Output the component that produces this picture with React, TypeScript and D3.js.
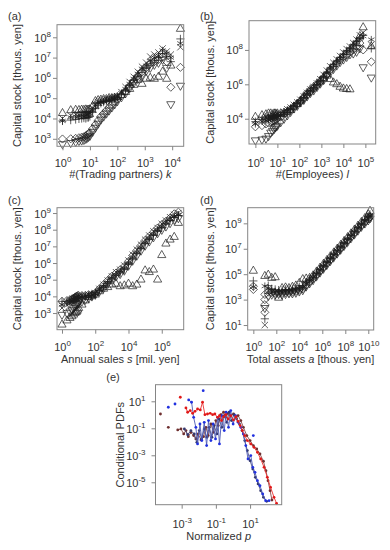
import React, { useEffect, useRef } from 'react';
import * as d3 from 'd3';

// All values are log10 exponents.

// (a) capital stock vs #(trading partners)
const aLogK = [0, 0.30, 0.48, 0.60, 0.70, 0.78, 0.85, 0.90, 0.95, 1.0, 1.1, 1.2, 1.3, 1.4, 1.5, 1.6, 1.7, 1.8, 1.9, 2.0, 2.15, 2.3, 2.45, 2.6, 2.75, 2.9, 3.05, 3.2, 3.35, 3.5, 3.65, 3.8, 3.95, 4.3];
const aTriUp = [4.26, 4.40, 4.42, 4.41, 4.43, 4.42, 4.44, 4.42, 4.43, 4.45, 4.6, 4.85, 4.9, 4.92, 4.95, 4.95, 5.0, 5.0, 5.02, 5.05, 5.15, 5.3, 5.45, 5.65, 5.9, 5.7, 5.95, 6.0, 5.95, 6.05, 6.3, 5.95, 6.6, 8.41];
const aCross = [4.0, 4.15, 4.2, 4.18, 4.22, 4.2, 4.25, 4.22, 4.28, 4.3, 4.5, 4.7, 4.8, 4.85, 4.9, 4.95, 4.95, 5.0, 5.05, 5.1, 5.3, 5.55, 5.8, 6.05, 6.3, 6.55, 6.75, 7.05, 7.15, 7.25, 7.45, 7.3, 7.15, 7.51];
const aStar = [3.88, 4.05, 4.1, 4.12, 4.15, 4.1, 4.18, 4.2, 4.2, 4.25, 4.4, 4.6, 4.75, 4.8, 4.85, 4.9, 4.95, 5.0, 5.0, 5.05, 5.25, 5.45, 5.7, 5.95, 6.2, 6.45, 6.6, 6.85, 7.0, 7.1, 7.35, 7.2, 7.0, 7.7];
const aPlus = [3.88, 3.92, 3.95, 3.98, 4.0, 4.02, 4.0, 4.05, 4.05, 4.1, 4.3, 4.5, 4.65, 4.75, 4.8, 4.85, 4.9, 4.95, 5.0, 5.05, 5.2, 5.4, 5.65, 5.9, 6.1, 6.35, 6.5, 6.7, 6.85, 7.0, 7.2, 7.05, 6.8, 7.92];
const aDiamond = [2.99, 3.0, 3.02, 3.05, 3.08, 3.1, 3.15, 3.2, 3.25, 3.3, 3.5, 3.7, 3.9, 4.1, 4.25, 4.4, 4.55, 4.7, 4.85, 4.95, 5.15, 5.35, 5.6, 5.85, 6.1, 6.3, 6.5, 6.7, 6.8, 6.9, 7.05, 6.8, 5.54, 6.52];
const aTriDown = [2.74, 2.8, 2.85, 2.9, 2.92, 2.95, 3.0, 3.05, 3.1, 3.15, 3.35, 3.55, 3.75, 3.95, 4.1, 4.25, 4.4, 4.55, 4.7, 4.85, 5.05, 5.25, 5.5, 5.75, 5.95, 6.15, 6.35, 6.5, 6.65, 6.75, 6.9, 6.5, 4.71, 5.62];

// (b) capital stock vs #(employees)
const bLogL = [0, 0.30, 0.48, 0.60, 0.70, 0.78, 0.85, 0.90, 0.95, 1.0, 1.15, 1.3, 1.45, 1.6, 1.75, 1.9, 2.05, 2.2, 2.35, 2.5, 2.65, 2.8, 2.95, 3.1, 3.25, 3.4, 3.55, 3.7, 3.85, 4.0, 4.15, 4.3, 4.45, 4.6, 4.75, 4.9, 5.27];
const bTriUp = [4.1, 4.2, 4.25, 4.3, 4.3, 4.25, 4.3, 4.3, 4.25, 4.3, 4.3, 4.35, 4.4, 4.5, 4.7, 4.85, 5.05, 5.3, 5.5, 5.7, 5.85, 6.05, 6.2, 6.35, 6.5, 6.3, 6.1, 6.0, 5.85, 5.75, 5.72, 5.7, 8.2, 8.4, 8.8, 9.31, 8.2];
const bCross = [3.9, 4.0, 4.1, 4.15, 4.1, 4.2, 4.15, 4.2, 4.2, 4.25, 4.3, 4.4, 4.55, 4.65, 4.8, 4.95, 5.1, 5.3, 5.5, 5.7, 5.85, 6.05, 6.3, 6.55, 6.8, 7.05, 7.25, 7.45, 7.65, 7.85, 8.05, 8.2, 8.4, 8.6, 8.85, 9.0, 8.3];
const bPlus = [3.83, 3.95, 4.0, 4.05, 4.05, 4.1, 4.1, 4.15, 4.15, 4.2, 4.25, 4.35, 4.5, 4.6, 4.75, 4.9, 5.05, 5.25, 5.45, 5.65, 5.8, 6.0, 6.2, 6.45, 6.7, 6.95, 7.15, 7.35, 7.55, 7.75, 7.95, 8.1, 8.3, 8.5, 8.7, 8.85, 8.09];
const bStar = [3.7, 3.85, 3.9, 3.95, 4.0, 4.0, 4.05, 4.05, 4.1, 4.1, 4.2, 4.3, 4.45, 4.55, 4.7, 4.85, 5.0, 5.2, 5.4, 5.6, 5.75, 5.95, 6.15, 6.4, 6.65, 6.9, 7.1, 7.3, 7.5, 7.7, 7.9, 8.05, 8.25, 8.45, 8.65, 8.8, 8.6];
const bDiamond = [3.53, 3.6, 3.7, 3.75, 3.8, 3.85, 3.9, 3.95, 3.95, 4.0, 4.1, 4.25, 4.4, 4.55, 4.7, 4.85, 5.0, 5.2, 5.4, 5.6, 5.75, 5.95, 6.15, 6.4, 6.6, 6.85, 7.05, 7.25, 7.45, 7.6, 7.7, 7.9, 8.0, 8.2, 8.4, 8.0, 7.31];
const bTriDown = [2.75, 2.8, 2.85, 3.0, 3.2, 3.3, 3.4, 3.5, 3.55, 3.6, 3.8, 4.0, 4.2, 4.4, 4.6, 4.75, 4.95, 5.1, 5.3, 5.5, 5.65, 5.85, 6.05, 6.25, 6.5, 6.7, 6.9, 7.1, 7.3, 7.45, 7.6, 7.75, 7.8, 7.9, 8.1, 7.0, 6.4];

// (c) capital stock vs annual sales
const cLogS = [0, 0.30, 0.48, 0.60, 0.70, 0.78, 0.85, 0.90, 0.95, 1.0, 1.2, 1.4, 1.6, 1.8, 2.0, 2.25, 2.5, 2.75, 3.0, 3.25, 3.5, 3.75, 4.0, 4.25, 4.5, 4.75, 5.0, 5.25, 5.5, 5.75, 6.0, 6.25, 6.5, 6.75, 7.0];
const cTriUp = [2.3, 2.55, 2.7, 2.8, 2.9, 3.0, 3.05, 3.1, 3.2, 3.3, 3.5, 3.75, 3.95, 4.05, 4.1, 4.3, 4.45, 4.55, 4.7, 4.75, 4.6, 4.65, 4.75, 4.6, 4.7, 5.0, 5.55, 5.45, 5.6, 5.0, 6.47, 7.16, 7.4, 7.56, 8.4];
const cCross = [3.3, 3.5, 3.6, 3.7, 3.8, 3.85, 3.9, 3.9, 3.95, 4.0, 4.0, 4.05, 4.1, 4.1, 4.2, 4.45, 4.7, 4.95, 5.2, 5.45, 5.6, 5.85, 6.15, 6.5, 6.8, 7.1, 7.4, 7.65, 7.9, 8.1, 8.35, 8.55, 8.75, 8.9, 9.0];
const cPlus = [3.7, 3.7, 3.75, 3.8, 3.85, 3.85, 3.9, 3.9, 3.95, 3.95, 4.0, 4.0, 4.05, 4.05, 4.1, 4.35, 4.55, 4.8, 5.05, 5.25, 5.4, 5.6, 5.9, 6.2, 6.55, 6.85, 7.15, 7.4, 7.65, 7.9, 8.1, 8.35, 8.55, 8.75, 8.85];
const cStar = [3.5, 3.6, 3.7, 3.75, 3.8, 3.8, 3.85, 3.85, 3.9, 3.9, 3.95, 4.0, 4.0, 4.05, 4.15, 4.4, 4.6, 4.85, 5.1, 5.3, 5.5, 5.7, 6.0, 6.35, 6.65, 6.95, 7.25, 7.5, 7.75, 8.0, 8.2, 8.45, 8.65, 8.8, 8.9];
const cDiamond = [3.7, 3.75, 3.8, 3.85, 3.9, 3.95, 4.0, 4.0, 4.05, 4.05, 4.05, 4.05, 4.1, 4.1, 4.2, 4.45, 4.7, 4.95, 5.2, 5.4, 5.6, 5.8, 6.1, 6.45, 6.75, 7.05, 7.35, 7.6, 7.85, 8.1, 8.3, 8.5, 8.7, 8.95, 9.05];
const cTriDown = [2.9, 3.0, 3.1, 3.2, 3.3, 3.4, 3.45, 3.5, 3.55, 3.6, 3.7, 3.8, 3.9, 4.0, 4.1, 4.3, 4.5, 4.75, 5.0, 5.2, 5.35, 5.55, 5.85, 6.15, 6.45, 6.75, 7.05, 7.3, 7.55, 7.8, 8.0, 8.2, 8.4, 8.6, 8.7];

// (d) capital stock vs total assets
const dLogA = [0, 1.0, 1.3, 1.6, 1.9, 2.2, 2.5, 2.8, 3.1, 3.4, 3.7, 4.0, 4.3, 4.6, 4.9, 5.2, 5.5, 5.8, 6.1, 6.4, 6.7, 7.0, 7.3, 7.6, 7.9, 8.2, 8.5, 8.8, 9.1, 9.4, 9.7, 10.0, 10.15];
const dTriUp = [5.26, 4.85, 4.95, 4.7, 4.75, 3.14, 3.9, 3.95, 3.9, 4.0, 4.1, 4.3, 4.6, 4.65, 4.7, 4.9, 5.2, 5.5, 5.8, 6.1, 6.4, 6.7, 7.0, 7.3, 7.6, 7.9, 8.2, 8.5, 8.8, 9.1, 9.4, 9.7, 9.97];
const dPlus = [4.47, 1.49, 4.1, 3.85, 3.8, 3.75, 3.75, 3.8, 3.8, 3.85, 3.9, 4.0, 4.1, 4.35, 4.6, 4.85, 5.1, 5.4, 5.7, 6.0, 6.3, 6.6, 6.9, 7.2, 7.5, 7.8, 8.1, 8.4, 8.7, 9.0, 9.3, 9.55, 9.7];
const dStar = [4.0, 4.06, 3.9, 3.7, 3.65, 3.6, 3.6, 3.65, 3.65, 3.7, 3.75, 3.85, 3.95, 4.25, 4.5, 4.75, 5.0, 5.3, 5.6, 5.9, 6.2, 6.5, 6.8, 7.1, 7.4, 7.7, 8.0, 8.3, 8.6, 8.9, 9.2, 9.45, 9.6];
const dDiamond = [3.8, 3.41, 3.6, 3.55, 3.5, 3.5, 3.5, 3.55, 3.55, 3.6, 3.65, 3.75, 3.85, 4.15, 4.4, 4.65, 4.95, 5.25, 5.55, 5.85, 6.15, 6.45, 6.75, 7.05, 7.35, 7.65, 7.95, 8.25, 8.55, 8.85, 9.1, 9.35, 9.5];
const dTriDown = [null, 2.35, 3.3, 3.4, 3.4, 3.45, 3.4, 3.45, 3.5, 3.5, 3.55, 3.65, 3.75, 4.05, 4.3, 4.55, 4.85, 5.15, 5.45, 5.75, 6.05, 6.35, 6.65, 6.95, 7.25, 7.55, 7.85, 8.15, 8.45, 8.75, 9.0, 9.25, 9.4];
const dCross = [null, 1.0, 3.7, 3.6, 3.55, 3.55, 3.6, 3.6, 3.6, 3.65, 3.7, 3.8, 3.9, 4.2, 4.45, 4.7, 5.0, 5.3, 5.6, 5.9, 6.2, 6.5, 6.8, 7.1, 7.4, 7.7, 8.0, 8.3, 8.6, 8.9, 9.15, 9.4, 9.55];
const dExtraLogA = [1.0, 1.0, 1.0, 0];
const dExtraDiamond = [2.0, 2.6, 3.0, 4.05];

// (e) conditional PDFs vs normalized p  ([log x, log y])
const eRedLine = [[-2.75, 0.51], [-2.65, 0.19], [-2.5, 0.31], [-2.36, 0.11], [-2.22, 0.26], [-2.07, 0.43], [-1.91, 0.36], [-1.78, 0.93], [-1.64, 0.01], [-1.49, 0.06], [-1.33, 0.11], [-1.19, 0.01], [-1.06, 0.06], [-0.9, -0.19], [-0.79, -0.06], [-0.67, -0.43], [-0.55, -0.14], [-0.42, 0.01], [-0.28, -0.31], [-0.13, -0.06], [0.03, -0.38], [0.17, -0.14], [0.3, -0.48], [0.42, -0.8], [0.55, -1.17], [0.69, -1.54], [0.84, -1.91], [1.04, -2.16], [1.23, -2.41], [1.43, -2.78], [1.62, -3.27], [1.82, -3.89], [2.01, -4.63], [2.2, -5.37], [2.4, -6.11], [2.55, -6.56]];
const eRedDots = [[-3.08, 1.3]];
const eBrownLine = [[-3.23, -1.12], [-3.04, -1.05], [-2.88, -1.42], [-2.75, -1.17], [-2.61, -1.62], [-2.46, -1.3], [-2.3, -1.54], [-2.17, -1.79], [-2.03, -1.42], [-1.87, -1.86], [-1.72, -1.62], [-1.58, -0.93], [-1.45, -1.54], [-1.29, -0.68], [-1.14, -1.3], [-1.0, -0.43], [-0.86, -0.8], [-0.71, 0.01], [-0.55, 0.19], [-0.42, -0.19], [-0.28, 0.11], [-0.13, -0.06], [0.03, 0.06], [0.17, -0.19], [0.3, -0.06], [0.46, -0.43], [0.61, -0.93], [0.81, -1.54], [1.0, -1.91], [1.19, -2.28], [1.39, -2.53], [1.58, -2.9], [1.78, -3.44], [1.93, -4.14], [2.05, -4.88], [2.17, -5.62], [2.28, -6.31]];
const eBrownDots = [[-4.24, 0.06], [-3.78, -0.93]];
const eBlueLine = [[-2.59, 1.1], [-2.42, 0.93], [-2.3, -0.19], [-2.17, -0.93], [-2.07, -2.16], [-1.93, -0.68], [-1.82, -1.91], [-1.68, -0.56], [-1.54, -2.28], [-1.43, -0.43], [-1.29, -1.91], [-1.16, -0.68], [-1.02, -1.79], [-0.9, -0.19], [-0.79, -2.16], [-0.65, -0.06], [-0.51, -1.17], [-0.4, 0.19], [-0.26, -0.93], [-0.13, 0.31], [0.01, -0.68], [0.15, -0.06], [0.3, -0.56], [0.46, -0.93], [0.61, -1.42], [0.75, -2.28], [0.88, -3.27], [1.04, -3.02], [1.16, -3.89], [1.29, -4.26], [1.43, -4.88], [1.58, -5.25], [1.74, -5.86], [1.91, -6.36], [2.11, -6.36]];
const eBlueDots = [[-3.78, 0.56], [-3.39, 0.8], [-1.74, 1.79], [1.19, -1.54]];
const eNavyLine = [[-2.84, -1.05], [-2.65, -1.47], [-2.46, -1.17], [-2.26, -1.42], [-2.11, -2.04], [-1.97, -1.17], [-1.83, -1.79], [-1.68, -1.05], [-1.52, -1.67], [-1.39, -0.93], [-1.23, -1.67], [-1.1, -0.8], [-0.94, -1.42], [-0.81, -0.31], [-0.65, -0.93], [-0.51, -0.06], [-0.36, -0.56], [-0.22, 0.19], [-0.09, -0.43], [0.07, 0.01], [0.22, -0.31], [0.38, -0.68], [0.53, -1.17], [0.69, -1.91], [0.84, -2.65], [1.0, -3.4], [1.16, -4.01], [1.31, -4.63], [1.47, -5.12], [1.62, -5.62], [1.78, -6.11], [1.97, -6.41]];

const font = "'Liberation Sans', Arial, Helvetica, sans-serif";
const ink = '#333';
const frameColor = '#858585';

type Shape = 'triUp' | 'triDown' | 'diamond' | 'plus' | 'cross' | 'star';

const symbols: Record<Shape, string> = {
  triUp: d3.symbol(d3.symbolTriangle2, 48)() as string,
  triDown: d3.symbol(d3.symbolTriangle2, 48)() as string,
  diamond: d3.symbol(d3.symbolDiamond2, 42)() as string,
  plus: d3.symbol(d3.symbolPlus, 24)() as string,
  cross: d3.symbol(d3.symbolTimes, 28)() as string,
  star: d3.symbol(d3.symbolAsterisk, 38)() as string,
};

interface Series { shape: Shape; xs: number[]; ys: (number | null)[] }

interface Panel {
  label: string; labelX: number; labelY: number;
  box: [number, number, number, number];
  xExp: [number, number]; yExp: [number, number];
  xTicks: number[]; yTicks: number[];
  xLabelY: number; yTitleX: number; xTitleY: number;
  xTitle: [string, string, string];
  series: Series[];
}

const panels: Panel[] = [
  {
    label: '(a)', labelX: 8, labelY: 20, box: [57, 24.7, 183.7, 146.3],
    xExp: [-0.2, 4.42], yExp: [2.63, 8.62], xTicks: [0, 1, 2, 3, 4], yTicks: [3, 4, 5, 6, 7, 8],
    xLabelY: 167, yTitleX: 21, xTitleY: 178, xTitle: ['#(Trading partners) ', 'k', ''],
    series: [
      { shape: 'triUp', xs: aLogK, ys: aTriUp }, { shape: 'cross', xs: aLogK, ys: aCross },
      { shape: 'star', xs: aLogK, ys: aStar }, { shape: 'plus', xs: aLogK, ys: aPlus },
      { shape: 'diamond', xs: aLogK, ys: aDiamond }, { shape: 'triDown', xs: aLogK, ys: aTriDown },
    ],
  },
  {
    label: '(b)', labelX: 200, labelY: 20, box: [249, 20.7, 375.7, 144],
    xExp: [-0.29, 5.47], yExp: [2.53, 9.7], xTicks: [0, 1, 2, 3, 4, 5], yTicks: [4, 6, 8],
    xLabelY: 167, yTitleX: 214, xTitleY: 178, xTitle: ['#(Employees) ', 'l', ''],
    series: [
      { shape: 'triUp', xs: bLogL, ys: bTriUp }, { shape: 'cross', xs: bLogL, ys: bCross },
      { shape: 'star', xs: bLogL, ys: bStar }, { shape: 'plus', xs: bLogL, ys: bPlus },
      { shape: 'diamond', xs: bLogL, ys: bDiamond }, { shape: 'triDown', xs: bLogL, ys: bTriDown },
    ],
  },
  {
    label: '(c)', labelX: 8, labelY: 204, box: [57, 207.7, 183.7, 329.7],
    xExp: [-0.3, 7.32], yExp: [2.0, 9.32], xTicks: [0, 2, 4, 6], yTicks: [3, 4, 5, 6, 7, 8, 9],
    xLabelY: 351, yTitleX: 21, xTitleY: 363, xTitle: ['Annual sales ', 's', ' [mil. yen]'],
    series: [
      { shape: 'triUp', xs: cLogS, ys: cTriUp }, { shape: 'cross', xs: cLogS, ys: cCross },
      { shape: 'star', xs: cLogS, ys: cStar }, { shape: 'plus', xs: cLogS, ys: cPlus },
      { shape: 'diamond', xs: cLogS, ys: cDiamond }, { shape: 'triDown', xs: cLogS, ys: cTriDown },
    ],
  },
  {
    label: '(d)', labelX: 200, labelY: 204, box: [247.7, 207.7, 373.7, 330],
    xExp: [-0.49, 10.47], yExp: [0.61, 10.23], xTicks: [0, 2, 4, 6, 8, 10], yTicks: [1, 3, 5, 7, 9],
    xLabelY: 351, yTitleX: 214, xTitleY: 363, xTitle: ['Total assets ', 'a', ' [thous. yen]'],
    series: [
      { shape: 'triUp', xs: dLogA, ys: dTriUp }, { shape: 'cross', xs: dLogA, ys: dCross },
      { shape: 'star', xs: dLogA, ys: dStar }, { shape: 'plus', xs: dLogA, ys: dPlus },
      { shape: 'diamond', xs: dLogA, ys: dDiamond }, { shape: 'triDown', xs: dLogA, ys: dTriDown },
      { shape: 'diamond', xs: dExtraLogA, ys: dExtraDiamond },
    ],
  },
];

const expText = (e: number) => (e < 0 ? '-' + Math.abs(e) : String(e));

type Sel = d3.Selection<SVGGElement, unknown, null, undefined>;
type Root = d3.Selection<SVGSVGElement, unknown, null, undefined>;

function axisLabels(g: Sel, anchor: string, xOff: number, yOff: number) {
  g.selectAll<SVGTextElement, number>('.tick text').each(function (d) {
    const t = d3.select(this);
    t.text(null)
      .attr('x', xOff).attr('y', yOff).attr('dy', null)
      .attr('text-anchor', anchor).attr('fill', ink).attr('font-size', 11).attr('font-family', font);
    t.append('tspan').text('10');
    t.append('tspan').attr('dy', -5).attr('font-size', 8).text(expText(Math.round(Math.log10(d))));
  });
}

function frameAndAxes(root: Root,
  x: d3.ScaleLogarithmic<number, number>, y: d3.ScaleLogarithmic<number, number>,
  box: [number, number, number, number], xTicks: number[], yTicks: number[], xLabelY: number, yGap = 6) {
  const [l, t, r, b] = box;
  root.append('rect').attr('x', l).attr('y', t).attr('width', r - l).attr('height', b - t)
    .attr('fill', 'none').attr('stroke', frameColor).attr('stroke-width', 1);

  const ya = root.append('g').attr('transform', `translate(${l},0)`).style('color', frameColor)
    .call(d3.axisLeft(y).tickValues(yTicks.map(e => 10 ** e)).tickSize(4).tickSizeOuter(0).tickFormat(() => ''));
  ya.select('.domain').remove();
  axisLabels(ya, 'end', -yGap, 4);

  const xa = root.append('g').attr('transform', `translate(0,${b})`).style('color', frameColor)
    .call(d3.axisBottom(x).tickValues(xTicks.map(e => 10 ** e)).tickSize(4).tickSizeOuter(0).tickFormat(() => ''));
  xa.select('.domain').remove();
  axisLabels(xa, 'middle', 0, xLabelY - b);
}

function yTitle(root: Root, xPos: number, cy: number, label: string) {
  root.append('text').attr('transform', `translate(${xPos},${cy}) rotate(-90)`)
    .attr('text-anchor', 'middle').attr('font-size', 11).attr('fill', ink).attr('font-family', font)
    .text(label);
}

function xTitle(root: Root, cx: number, yPos: number, parts: [string, string, string]) {
  const t = root.append('text').attr('x', cx).attr('y', yPos).attr('text-anchor', 'middle')
    .attr('font-size', 11).attr('fill', ink).attr('font-family', font);
  t.append('tspan').text(parts[0]);
  t.append('tspan').attr('font-style', 'italic').text(parts[1]);
  if (parts[2]) t.append('tspan').text(parts[2]);
}

function drawScatter(root: Root, p: Panel) {
  const [l, t, r, b] = p.box;
  const x = d3.scaleLog().domain([10 ** p.xExp[0], 10 ** p.xExp[1]]).range([l, r]);
  const y = d3.scaleLog().domain([10 ** p.yExp[0], 10 ** p.yExp[1]]).range([b, t]);

  const marks = root.append('g');
  p.series.forEach(s => {
    const pts = s.xs.map((v, i) => [v, s.ys[i]] as [number, number | null])
      .filter(d => d[1] !== null) as [number, number][];
    marks.selectAll(null).data(pts).enter().append('path')
      .attr('d', symbols[s.shape])
      .attr('transform', d => `translate(${x(10 ** d[0])},${y(10 ** d[1])})${s.shape === 'triDown' ? ' rotate(180)' : ''}`)
      .attr('fill', 'none').attr('stroke', '#1c1c1c').attr('stroke-width', 0.7);
  });

  frameAndAxes(root, x, y, p.box, p.xTicks, p.yTicks, p.xLabelY);
  yTitle(root, p.yTitleX, (t + b) / 2, 'Capital stock [thous. yen]');
  xTitle(root, (l + r) / 2, p.xTitleY, p.xTitle);
  root.append('text').attr('x', p.labelX).attr('y', p.labelY).attr('font-size', 11)
    .attr('fill', ink).attr('font-family', font).text(p.label);
}

function drawPdf(root: Root) {
  const box: [number, number, number, number] = [155.5, 384.7, 281.7, 504.7];
  const [l, t, r, b] = box;
  const x = d3.scaleLog().domain([10 ** -4.53, 10 ** 2.85]).range([l, r]);
  const y = d3.scaleLog().domain([10 ** -6.66, 10 ** 2.23]).range([b, t]);
  const line = d3.line<number[]>().x(d => x(10 ** d[0])).y(d => y(10 ** d[1]));

  const series = [
    { line: eBrownLine, dots: eBrownDots, stroke: '#8a4a4a', fill: '#6e2f2f' },
    { line: eNavyLine, dots: [] as number[][], stroke: '#4a4f86', fill: '#33386e' },
    { line: eBlueLine, dots: eBlueDots, stroke: '#4c58b4', fill: '#2030e0' },
    { line: eRedLine, dots: eRedDots, stroke: '#ec3030', fill: '#e01818' },
  ];
  const g = root.append('g');
  series.forEach(s => {
    g.append('path').datum(s.line).attr('d', line).attr('fill', 'none')
      .attr('stroke', s.stroke).attr('stroke-width', 0.9);
    g.selectAll(null).data([...s.line, ...s.dots]).enter().append('circle')
      .attr('cx', d => x(10 ** d[0])).attr('cy', d => y(10 ** d[1])).attr('r', 1.4)
      .attr('fill', s.fill);
  });

  frameAndAxes(root, x, y, box, [-3, -1, 1], [1, -1, -3, -5], 528, 10);
  yTitle(root, 124, (t + b) / 2, 'Conditional PDFs');
  xTitle(root, (l + r) / 2, 540, ['Normalized ', 'p', '']);
  root.append('text').attr('x', 113).attr('y', 381).attr('text-anchor', 'middle')
    .attr('font-size', 11).attr('fill', ink).attr('font-family', font).text('(e)');
}

const App: React.FC = () => {
  const svgRef = useRef<SVGSVGElement | null>(null);

  useEffect(() => {
    if (!svgRef.current) return;
    const root = d3.select(svgRef.current);
    root.selectAll('*').remove();
    panels.forEach(p => drawScatter(root, p));
    drawPdf(root);
  }, []);

  return (
    <svg ref={svgRef} width={390} height={550}
      style={{ position: 'absolute', left: 0, top: 0, background: '#fff', fontFamily: font }} />
  );
};

export default App;
